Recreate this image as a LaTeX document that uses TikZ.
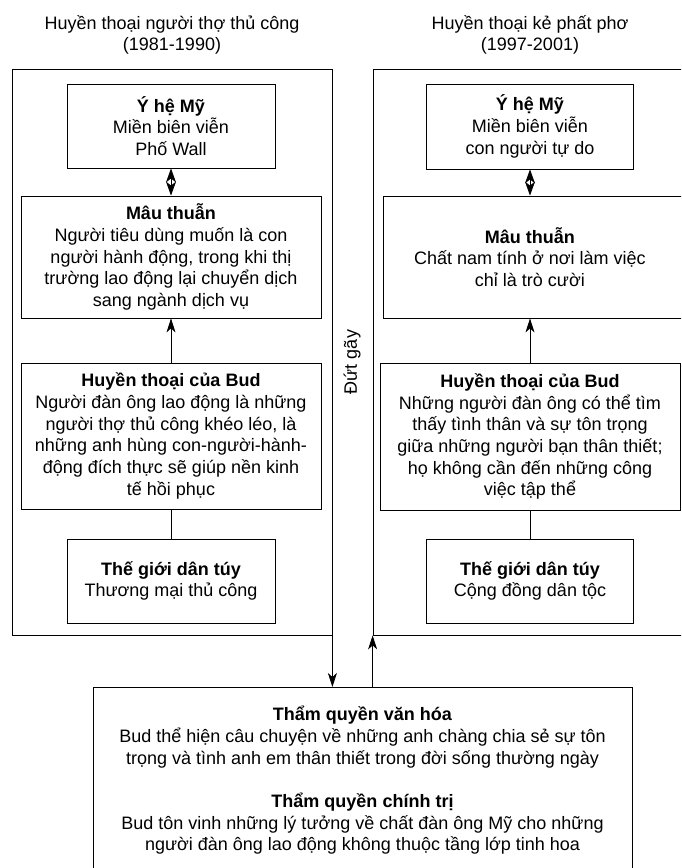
\documentclass[tikz,border=0pt]{standalone}
\usepackage{fontspec}
\setmainfont{Liberation Sans}
\usetikzlibrary{arrows.meta}

\begin{document}
\begin{tikzpicture}[x=1pt,y=1pt,line width=0.8pt,
    box/.style={draw=black,align=center,inner sep=0pt},
    panel/.style={draw=black,inner sep=0pt},
    tip/.style={-{Stealth[length=14pt,width=9pt,inset=4pt]}},
    dbltip/.style={{Stealth[length=14pt,width=10pt,inset=4pt]}-{Stealth[length=14pt,width=10pt,inset=4pt]}}]
    \tikzstyle{every node}+=[font=\fontsize{18}{21.7}\selectfont]
    \useasboundingbox (0,0) rectangle (681,-868);
    \clip (0,0) rectangle (681,-868);
    % titles
    \node[align=center] (titleL) at (172,-35) {Huyền thoại người thợ thủ công\\(1981-1990)};
    \node[align=center] (titleR) at (530,-35) {Huyền thoại kẻ phất phơ\\(1997-2001)};
    % panels
    \node[panel, minimum width=320, minimum height=566] (panelL) at (172,-352) {};
    \node[panel, minimum width=330, minimum height=566] (panelR) at (538,-352) {};
    % left column
    \node[box, minimum width=208, minimum height=84] (ideoL) at (171,-126) {\textbf{Ý hệ Mỹ}\\Miền biên viễn\\Phố Wall};
    \node[box, minimum width=300, minimum height=122] (contrL) at (171,-257) {\textbf{Mâu thuẫn}\\Người tiêu dùng muốn là con\\người hành động, trong khi thị\\trường lao động lại chuyển dịch\\sang ngành dịch vụ};
    \node[box, minimum width=300, minimum height=146] (mythL) at (171,-436) {\textbf{Huyền thoại của Bud}\\Người đàn ông lao động là những\\người thợ thủ công khéo léo, là\\những anh hùng con-người-hành-\\động đích thực sẽ giúp nền kinh\\tế hồi phục};
    \node[box, minimum width=208, minimum height=84] (worldL) at (171,-581) {\textbf{Thế giới dân túy}\\Thương mại thủ công};
    % right column
    \node[box, minimum width=207, minimum height=85] (ideoR) at (530,-126.5) {\textbf{Ý hệ Mỹ}\\Miền biên viễn\\con người tự do};
    \node[box, anchor=west, minimum height=122] (contrR) at (383,-257) {\parbox{293pt}{\centering\textbf{Mâu thuẫn}\\Chất nam tính ở nơi làm việc\\chỉ là trò cười}\hspace*{24pt}};
    \node[box, minimum width=300, minimum height=147] (mythR) at (530,-436.5) {\textbf{Huyền thoại của Bud}\\Những người đàn ông có thể tìm\\thấy tình thân và sự tôn trọng\\giữa những người bạn thân thiết;\\họ không cần đến những công\\việc tập thể};
    \node[box, minimum width=207, minimum height=84] (worldR) at (530,-581) {\textbf{Thế giới dân túy}\\Cộng đồng dân tộc};
    \node[rotate=90] (rupture) at (352,-362) {Đứt gãy};
    % bottom
    \node[box, anchor=north, minimum width=539, minimum height=186] (authority) at (362.5,-687) {\textbf{Thẩm quyền văn hóa}\\Bud thể hiện câu chuyện về những anh chàng chia sẻ sự tôn\\trọng và tình anh em thân thiết trong đời sống thường ngày\\[21.7pt]\textbf{Thẩm quyền chính trị}\\Bud tôn vinh những lý tưởng về chất đàn ông Mỹ cho những\\người đàn ông lao động không thuộc tầng lớp tinh hoa};
    % connectors
    \draw[dbltip] (ideoL) -- (contrL);
    \draw[dbltip] (ideoR.south) -- (ideoR.south |- contrR.north);
    \draw[tip] (mythL) -- (contrL);
    \draw[tip] (mythR.north) -- (mythR.north |- contrR.south);
    \draw (mythL) -- (worldL);
    \draw (mythR) -- (worldR);
    \draw[tip] (panelL.south east) -- (panelL.south east |- authority.north);
    \draw[tip] (authority.north -| panelR.south west) -- (panelR.south west);
\end{tikzpicture}
\end{document}
